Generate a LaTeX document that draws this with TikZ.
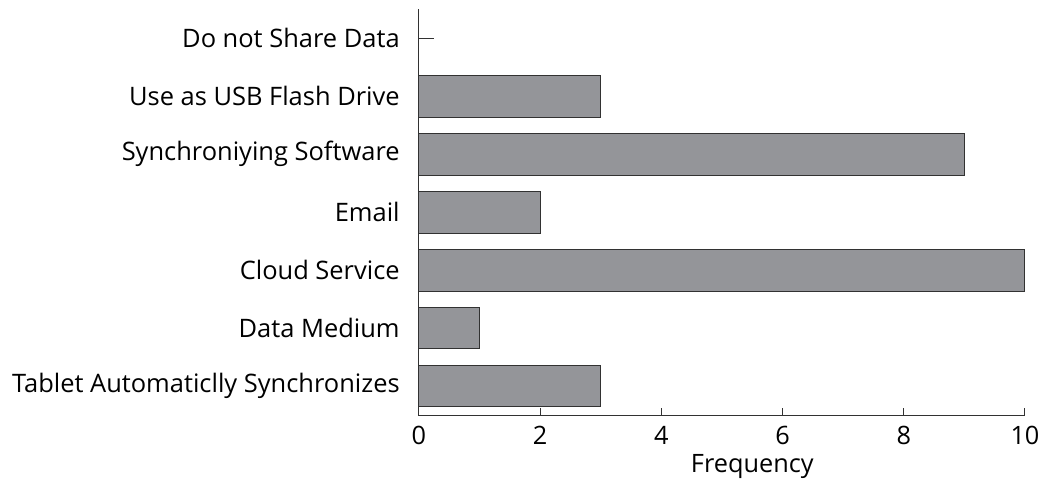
\documentclass[tikz,border=0pt]{standalone}
\usepackage{fontspec}
\setmainfont{Open Sans}
\usepackage{tikz}
\usetikzlibrary{calc}
\definecolor{barfill}{RGB}{148,149,153}
\definecolor{axisgray}{RGB}{50,50,50}
\tikzset{%
  % Specifications for style of bars and labels:
            bar/.style    = {fill=barfill, draw=axisgray, line width=0.7pt},
            axis/.style   = {draw=axisgray, line width=0.7pt},
            catlabel/.style = {anchor=east, inner sep=0pt, font=\fontsize{18.1}{21}\selectfont},
            ticklabel/.style = {inner sep=0pt, font=\fontsize{18}{21}\selectfont}
                           }

\begin{document}
\begin{tikzpicture}[x=1.515cm, y=1.449cm]
  \useasboundingbox (-6.914,-1.225) rectangle (10.314,7.161);

  % category labels
  \node (share)  [catlabel] at (-0.314,6.5) {Do not Share Data};
  \node (usb)    [catlabel] at (-0.314,5.5) {Use as USB Flash Drive};
  \node (sync)   [catlabel] at (-0.314,4.5) {Synchroniying Software};
  \node (email)  [catlabel] at (-0.314,3.5) {Email};
  \node (cloud)  [catlabel] at (-0.314,2.5) {Cloud Service};
  \node (medium) [catlabel] at (-0.314,1.5) {Data Medium};
  \node (tablet) [catlabel] at (-0.314,0.5) {Tablet Automaticlly Synchronizes};

  % bars
  \draw[bar] (0,5.14) rectangle (3,5.86);
  \draw[bar] (0,4.14) rectangle (9,4.86);
  \draw[bar] (0,3.14) rectangle (2,3.86);
  \draw[bar] (0,2.14) rectangle (10,2.86);
  \draw[bar] (0,1.14) rectangle (1,1.86);
  \draw[bar] (0,0.14) rectangle (3,0.86);
  \draw[axis] (0,6.5) -- (0.25,6.5);

  % axes
  \coordinate (origin) at (0,0);
  \coordinate (ytop)   at (0,7);
  \coordinate (xend)   at (10,0);
  \draw[axis] (ytop) -- (origin) -- (xend);
  \foreach \t in {0,2,...,10}{
    \draw[axis] (\t,0) -- (\t,0.13);
    \node (tick\t) [ticklabel] at (\t,-0.345) {\t};
  }
  \node (xlabel) [ticklabel] at (5.5,-0.88) {Frequency};
\end{tikzpicture}
\end{document}
